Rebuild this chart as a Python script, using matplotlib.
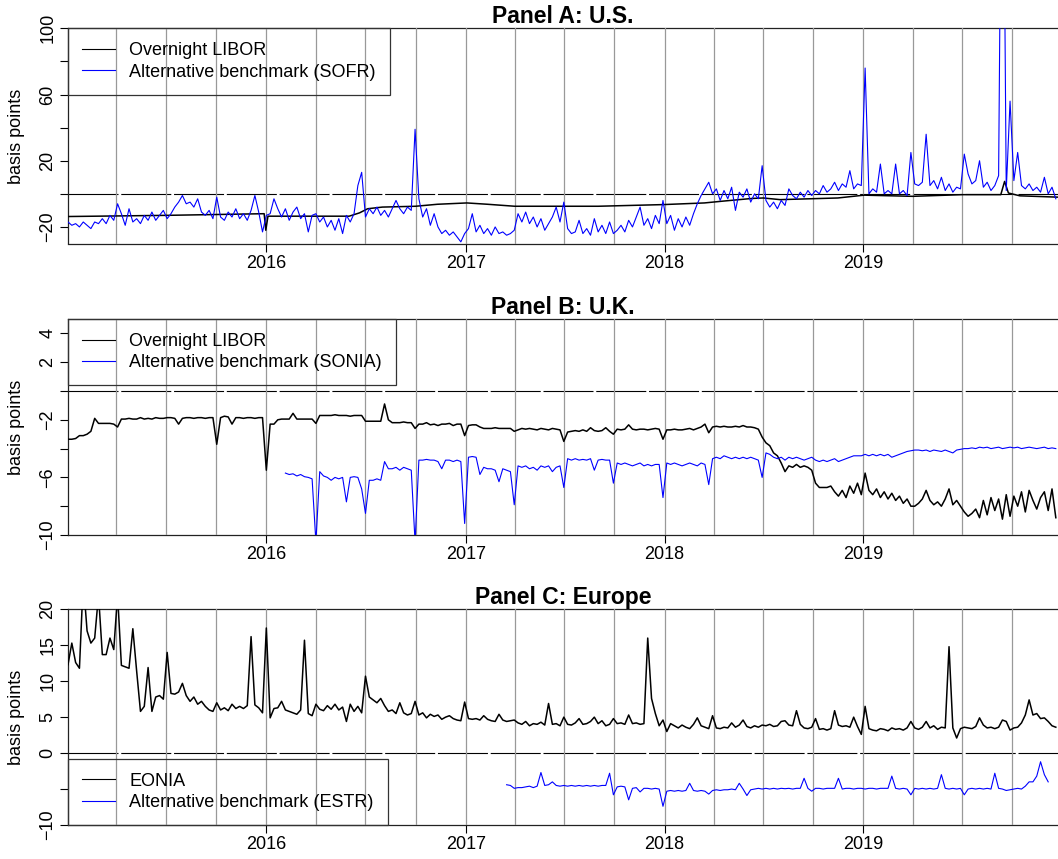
import numpy as np
import pandas as pd
import matplotlib
matplotlib.use('Agg')
import matplotlib.pyplot as plt
from matplotlib.lines import Line2D

plt.rcParams['font.family'] = ['Liberation Sans', 'DejaVu Sans']

###############################################################################
# DATA (spreads to the policy-rate benchmark, basis points, weekly readings)
###############################################################################

WEEKLY_START = '2015-01-02'

# Panel A: SOFR (weekly, from 2015-01-02)
SOFR_SPREAD = [
    -17, -19, -18, -20, -17, -19, -21, -17, -18, -15, -18, -13, -16,
    -6, -12, -19, -9, -17, -15, -18, -13, -16, -11, -16, -13, -10,
    -15, -12, -8, -5, -1, -6, -5, -8, -3, -11, -13, -10, -15,
    -2, -14, -16, -11, -14, -9, -15, -12, -16, -10, -1, -11, -23,
    -13, -12, -3, -9, -14, -9, -16, -11, -8, -15, -12, -23, -13,
    -12, -17, -14, -20, -16, -22, -15, -24, -13, -17, -12, 5, 13,
    -14, -9, -12, -8, -13, -10, -14, -9, -4, -9, -12, -8, -10,
    39, -3, -14, -9, -19, -12, -20, -24, -22, -25, -23, -26, -29,
    -24, -21, -12, -23, -19, -24, -21, -25, -20, -24, -23, -25, -24,
    -22, -12, -17, -11, -18, -14, -20, -15, -22, -18, -14, -8, -17,
    -5, -21, -24, -23, -16, -24, -21, -25, -15, -23, -19, -24, -17,
    -24, -22, -19, -23, -16, -20, -14, -8, -19, -15, -21, -13, -18,
    -4, -18, -13, -22, -15, -20, -14, -19, -12, -6, -1, 3, 7,
    0, 3, -4, 2, -3, 4, -10, 1, -2, 3, -5, 0, -3,
    17, -4, -8, -5, -9, -4, -7, 3, -1, -3, 1, -2, 2,
    -1, 2, 0, 5, 1, 3, 7, 2, 6, 4, 14, 3, 6,
    5, 76, 0, 3, 1, 18, 0, 2, 0, 18, 0, 2, -1,
    25, 6, 5, 7, 36, 5, 8, 3, 10, 2, 6, 1, 4,
    3, 24, 12, 6, 8, 20, 4, 7, 2, 5, 11, 300, 2,
    56, 8, 25, 5, 3, 6, 2, 4, 1, 10, 0, 4, -3,
]

US_LIBOR_DATES = [
    '2015-01-02', '2015-07-01', '2015-12-28', '2015-12-31', '2016-01-04',
    '2016-06-01', '2016-06-20', '2016-07-05', '2016-08-01', '2016-10-01',
    '2016-11-10', '2017-01-03', '2017-02-10', '2017-04-01', '2017-09-01',
    '2017-12-29', '2018-03-15', '2018-04-15', '2018-06-10', '2018-07-01',
    '2018-08-01', '2018-11-15', '2019-01-02', '2019-04-01', '2019-07-01',
    '2019-09-10', '2019-09-17', '2019-09-24', '2019-10-15', '2019-12-24',
]
US_LIBOR_SPREAD = [
    -13.7, -13, -12, -22, -13.5,
    -13.5, -11.5, -9, -8, -7.5,
    -6.3, -5.5, -6.3, -7.5, -7.5,
    -6.5, -5.5, -4.5, -2.8, -2.5,
    -3.5, -2.5, -0.8, -1.5, -0.5,
    -0.5, 7.5, 0.5, -1.2, -2,
]

# Panel B
UK_LIBOR_SPREAD = [
    -3.35, -3.35, -3.3, -3.1, -3.1, -3.0, -2.8, -1.9, -2.25, -2.25, -2.25, -2.25, -2.3,
    -2.5, -1.95, -1.95, -1.9, -1.95, -1.95, -1.85, -1.95, -1.9, -1.95, -1.85, -1.9, -1.9,
    -1.85, -1.85, -1.9, -2.3, -1.9, -1.85, -1.85, -1.9, -1.85, -1.85, -1.9, -1.85, -1.85,
    -3.7, -1.85, -1.75, -1.8, -2.3, -1.85, -1.85, -1.9, -1.85, -1.85, -1.9, -1.85, -1.85,
    -5.5, -2.3, -2.3, -2.0, -1.95, -1.95, -1.95, -1.55, -1.95, -1.95, -1.95, -1.95, -1.95,
    -2.25, -1.7, -1.7, -1.7, -1.7, -1.65, -1.7, -1.7, -1.7, -1.75, -1.7, -1.7, -1.7,
    -2.1, -2.1, -2.1, -2.1, -2.1, -0.9, -2.0, -2.2, -2.2, -2.2, -2.15, -2.2, -2.2,
    -2.6, -2.3, -2.3, -2.2, -2.35, -2.3, -2.4, -2.3, -2.3, -2.25, -2.4, -2.3, -2.3,
    -3.1, -2.4, -2.35, -2.35, -2.5, -2.6, -2.6, -2.6, -2.55, -2.6, -2.6, -2.6, -2.6,
    -2.8, -2.7, -2.6, -2.65, -2.6, -2.65, -2.7, -2.6, -2.65, -2.7, -2.6, -2.65, -2.7,
    -3.5, -2.85, -2.8, -2.75, -2.8, -2.7, -2.8, -2.55, -2.75, -2.8, -2.75, -2.55, -2.8,
    -3.0, -2.65, -2.7, -2.65, -2.35, -2.65, -2.7, -2.65, -2.65, -2.7, -2.65, -2.6, -2.65,
    -3.35, -2.7, -2.7, -2.65, -2.7, -2.7, -2.65, -2.6, -2.7, -2.6, -2.5, -2.3, -2.9,
    -2.5, -2.45, -2.5, -2.45, -2.5, -2.5, -2.45, -2.5, -2.4, -2.5, -2.5, -2.55, -2.65,
    -3.2, -3.6, -3.8, -4.3, -4.5, -5.0, -5.6, -5.2, -5.3, -5.1, -5.3, -5.2, -5.3,
    -5.5, -6.4, -6.7, -6.7, -6.7, -6.6, -7.0, -7.3, -6.9, -7.4, -6.6, -7.1, -6.4,
    -7.2, -5.7, -6.9, -7.2, -6.8, -7.4, -7.0, -7.5, -7.1, -7.6, -7.3, -7.8, -7.5,
    -8.0, -8.0, -7.8, -7.5, -6.9, -7.6, -7.9, -7.7, -8.0, -7.5, -6.8, -7.9, -7.6,
    -8.0, -8.4, -8.7, -8.5, -8.2, -8.8, -7.6, -8.6, -7.4, -8.3, -7.5, -8.9, -7.2,
    -8.7, -7.3, -8.0, -7.0, -8.4, -6.9, -7.6, -8.2, -7.4, -7.0, -8.3, -6.8, -8.8,
]

SONIA_START = '2016-02-05'
SONIA_SPREAD = [
    -5.7, -5.8, -5.75, -5.9, -5.8, -5.95, -6.0, -6.1,
    -10.5, -5.6, -5.9, -6.0, -6.2, -6.0, -6.1, -6.0, -7.7, -6.0, -5.95, -6.0, -6.8,
    -8.5, -6.2, -6.2, -6.1, -6.2, -4.9, -5.4, -5.4, -5.3, -5.5, -5.3, -5.4, -5.5,
    -10.5, -4.8, -4.8, -4.75, -4.8, -4.8, -4.9, -5.4, -4.8, -4.8, -4.9, -4.8, -4.9,
    -9.2, -4.6, -4.55, -4.6, -5.8, -5.3, -5.4, -5.4, -5.5, -6.3, -5.4, -5.5, -5.6,
    -7.9, -5.2, -5.3, -5.2, -5.4, -5.3, -5.5, -5.2, -5.3, -5.2, -5.6, -5.3, -5.2,
    -6.7, -4.7, -4.8, -4.7, -4.8, -4.75, -4.8, -4.7, -5.5, -4.8, -4.75, -4.8, -4.8,
    -6.4, -5.0, -5.1, -5.0, -5.1, -5.2, -5.1, -5.0, -5.2, -5.1, -5.2, -5.1, -5.1,
    -7.4, -5.0, -5.1, -5.0, -5.1, -5.2, -5.1, -5.0, -5.1, -5.2, -5.0, -5.1, -6.5,
    -4.7, -4.6, -4.7, -4.5, -4.6, -4.7, -4.6, -4.7, -4.6, -4.7, -4.6, -4.7, -4.8,
    -6.0, -4.3, -4.4, -4.6, -4.7, -4.6, -4.8, -4.6, -4.7, -4.6, -4.7, -4.8, -4.7,
    -4.6, -4.8, -4.9, -4.8, -4.9, -4.8, -4.7, -4.9, -4.8, -4.7, -4.6, -4.5, -4.5,
    -4.5, -4.4, -4.5, -4.4, -4.5, -4.4, -4.5, -4.4, -4.6, -4.5, -4.4, -4.3, -4.2,
    -4.15, -4.1, -4.1, -4.15, -4.1, -4.2, -4.1, -4.15, -4.2, -4.1, -4.2, -4.3, -4.1,
    -4.05, -4.0, -4.0, -3.95, -4.0, -3.9, -3.95, -3.9, -4.0, -3.95, -3.9, -4.0, -3.95,
    -3.9, -3.95, -3.9, -4.0, -3.95, -3.9, -3.95, -4.0, -3.95, -3.9, -4.0, -3.95, -4.0,
]

# Panel C
EONIA_SPREAD = [
    12.3, 15.3, 12.6, 11.8, 24, 17, 15.3, 16, 22, 13.7, 13.7, 16, 14.4,
    22, 12.2, 12, 11.8, 17.3, 11.4, 5.8, 6.5, 11.9, 5.8, 7.8, 8, 7.5,
    14, 8.3, 8.2, 8.5, 9.7, 8, 7.2, 7.8, 6.8, 7.2, 6.5, 6.0, 5.8,
    7.0, 6.0, 6.3, 5.9, 6.8, 6.2, 6.5, 6.2, 6.6, 16.2, 6.7, 6.3, 5.6,
    17.4, 4.9, 6.2, 6.3, 7.2, 6.0, 5.8, 5.6, 5.4, 6.0, 15.7, 5.5, 5.2,
    6.8, 6.1, 5.9, 6.6, 6.1, 6.8, 6.0, 6.4, 4.4, 6.8, 5.8, 6.5, 5.6,
    10.7, 7.8, 7.4, 7.0, 7.6, 6.6, 5.8, 6.0, 5.5, 7.0, 5.6, 5.3, 5.5,
    7.2, 5.3, 5.6, 4.9, 5.4, 5.1, 5.3, 4.7, 5.0, 5.2, 4.8, 4.6, 4.5,
    7.1, 4.8, 4.7, 4.8, 4.6, 5.2, 4.7, 4.5, 4.4, 5.4, 4.6, 4.4, 4.5,
    4.6, 4.2, 4.0, 4.4, 3.8, 4.1, 4.0, 4.3, 3.9, 6.9, 4.0, 4.1, 3.8,
    5.0, 4.0, 3.9, 4.2, 4.8, 4.0, 4.1, 4.4, 5.0, 4.1, 4.5, 3.8, 4.0,
    4.8, 4.1, 4.2, 4.0, 5.3, 4.1, 4.2, 4.0, 4.1, 16.0, 7.6, 5.5, 3.8,
    4.6, 3.0, 4.1, 3.8, 3.5, 3.9, 3.6, 3.4, 4.0, 4.9, 3.8, 3.6, 3.4,
    5.2, 3.5, 3.4, 3.6, 3.5, 4.2, 3.6, 3.9, 4.6, 3.7, 3.5, 3.8, 3.6,
    3.9, 3.8, 4.0, 3.7, 3.8, 4.4, 4.5, 3.9, 3.8, 5.9, 4.0, 3.5, 3.4,
    3.6, 4.8, 3.3, 3.4, 3.2, 3.4, 5.9, 3.9, 3.7, 3.8, 3.6, 5.0, 3.7,
    2.6, 6.5, 3.4, 3.2, 3.1, 3.4, 3.3, 3.1, 3.5, 3.3, 3.4, 3.2, 3.5,
    4.4, 3.5, 3.3, 3.6, 4.4, 3.5, 3.8, 3.3, 3.6, 3.5, 14.8, 3.5, 2.1,
    3.4, 3.6, 3.5, 3.4, 3.7, 4.9, 3.9, 3.5, 3.6, 3.4, 3.6, 4.6, 4.4,
    3.2, 3.5, 3.6, 4.2, 5.3, 7.4, 5.3, 5.5, 4.8, 4.9, 4.4, 3.8, 3.6,
]

ESTR_START = '2017-03-17'
ESTR_SPREAD = [
    -4.4, -4.5,
    -4.9, -4.8, -4.8, -4.7, -4.6, -4.8, -4.6, -2.7, -4.5, -4.4, -4.0, -4.5, -4.6,
    -4.5, -4.6, -4.5, -4.6, -4.5, -4.6, -4.5, -4.6, -4.5, -4.6, -4.5, -4.5, -2.8,
    -5.8, -4.7, -4.6, -4.7, -6.5, -4.9, -4.8, -5.4, -4.9, -4.9, -5.0, -4.9, -5.0,
    -7.4, -5.3, -5.2, -5.3, -5.2, -5.3, -5.2, -4.2, -5.2, -5.3, -5.2, -5.3, -5.7,
    -5.2, -5.1, -5.2, -5.1, -5.1, -5.0, -5.1, -4.2, -5.0, -5.9, -5.1, -5.0, -4.9,
    -5.0, -4.9, -5.0, -4.9, -5.0, -4.9, -4.95, -4.9, -5.0, -4.9, -4.9, -3.5, -4.9,
    -5.3, -4.9, -4.9, -5.0, -4.9, -4.9, -4.9, -3.5, -5.0, -4.9, -4.9, -5.0, -4.9,
    -4.9, -5.0, -4.9, -4.9, -5.0, -4.9, -4.9, -4.9, -3.2, -4.9, -5.0, -4.9, -5.0,
    -5.8, -4.9, -5.0, -4.9, -5.0, -4.9, -5.0, -4.9, -3.0, -4.9, -5.0, -4.9, -5.0,
    -4.9, -5.8, -5.0, -4.9, -5.0, -4.9, -5.0, -4.9, -5.0, -2.8, -4.9, -5.0, -5.2,
    -5.1, -5.0, -4.9, -5.0, -4.6, -4.0, -4.0, -3.2, -1.2, -3.0, -4.0,
]

YEAR_TICKS = ['2016-01-01', '2017-01-01', '2018-01-01', '2019-01-01']
YEAR_LABELS = ['2016', '2017', '2018', '2019']
X_RANGE = ('2015-01-02', '2019-12-24')

###############################################################################
# PLOTTING
###############################################################################

BLUE = '#0000ff'
W, H = 1058, 859


def weekly(start, values):
    return pd.date_range(start, periods=len(values), freq='7D')


def setup_panel(ax, title, ylim, yticks, ylabels):
    ax.set_xlim(pd.Timestamp(X_RANGE[0]), pd.Timestamp(X_RANGE[1]))
    ax.set_ylim(*ylim)
    # quarterly grid lines
    for q in pd.date_range('2015-04-01', '2019-10-01', freq='QS'):
        ax.axvline(q, color='#999999', lw=0.9, zorder=3)
    ax.axhline(0, color='black', lw=0.8, linestyle=(0, (45, 2.5)), zorder=1)
    ax.set_xticks(pd.to_datetime(YEAR_TICKS), YEAR_LABELS)
    ax.set_yticks(yticks, ylabels, rotation=90, va='center')
    ax.tick_params(axis='both', direction='out', length=5.8, width=0.8, labelsize=13)
    ax.tick_params(axis='x', pad=2.2)
    ax.tick_params(axis='y', pad=2.5)
    ax.spines['right'].set_visible(False)
    for s in ('left', 'bottom', 'top'):
        ax.spines[s].set_color('#222222')
        ax.spines[s].set_linewidth(0.9)
    ax.set_ylabel('basis points', fontsize=13, va='center')
    ax.yaxis.set_label_coords((16.3 - 68) / 990, 0.5)
    ax.set_title(title, fontsize=16.5, fontweight='bold', pad=2.4)


def add_legend(ax, labels, loc, anchor):
    handles = [Line2D([], [], color='black', lw=0.8),
               Line2D([], [], color=BLUE, lw=0.8)]
    leg = ax.legend(handles, labels, loc=loc, bbox_to_anchor=anchor, borderaxespad=0,
                    fontsize=13, handlelength=1.83, handletextpad=0.8, borderpad=0.77,
                    labelspacing=0.25, fancybox=False, facecolor='none',
                    edgecolor='#333333', framealpha=1)
    leg.get_frame().set_linewidth(0.9)
    leg.set_zorder(5)


fig = plt.figure(figsize=(W / 100, H / 100), dpi=100)
left = 68 / W
width = 990 / W

# Panel A: U.S.
axA = fig.add_axes([left, 1 - 243.5 / H, width, 215.2 / H])
setup_panel(axA, 'Panel A: U.S.', (-30, 100), [-20, 0, 20, 40, 60, 80, 100],
            ['\u221220', '', '20', '', '60', '', '100'])
axA.plot(pd.to_datetime(US_LIBOR_DATES), US_LIBOR_SPREAD, color='black', lw=1.1, zorder=4)
axA.plot(weekly(WEEKLY_START, SOFR_SPREAD), SOFR_SPREAD, color=BLUE, lw=0.8, zorder=4)
add_legend(axA, ['Overnight LIBOR', 'Alternative benchmark (SOFR)'], 'upper left', (0, 1))

# Panel B: U.K.
axB = fig.add_axes([left, 1 - 535 / H, width, 216 / H])
setup_panel(axB, 'Panel B: U.K.', (-10, 5), [-10, -8, -6, -4, -2, 0, 2, 4],
            ['\u221210', '', '\u22126', '', '\u22122', '', '2', '4'])
axB.plot(weekly(WEEKLY_START, UK_LIBOR_SPREAD), UK_LIBOR_SPREAD, color='black', lw=1.1, zorder=4)
axB.plot(weekly(SONIA_START, SONIA_SPREAD), SONIA_SPREAD, color=BLUE, lw=0.8, zorder=4)
add_legend(axB, ['Overnight LIBOR', 'Alternative benchmark (SONIA)'], 'upper left', (0, 1))

# Panel C: Europe
axC = fig.add_axes([left, 1 - 825 / H, width, 215.7 / H])
setup_panel(axC, 'Panel C: Europe', (-10, 20), [-10, -5, 0, 5, 10, 15, 20],
            ['\u221210', '', '0', '5', '10', '15', '20'])
axC.plot(weekly(WEEKLY_START, EONIA_SPREAD), EONIA_SPREAD, color='black', lw=1.1, zorder=4)
axC.plot(weekly(ESTR_START, ESTR_SPREAD), ESTR_SPREAD, color=BLUE, lw=0.8, zorder=4)
add_legend(axC, ['EONIA', 'Alternative benchmark (ESTR)'], 'lower left', (0, 0))

fig.savefig('out.png', dpi=100)
